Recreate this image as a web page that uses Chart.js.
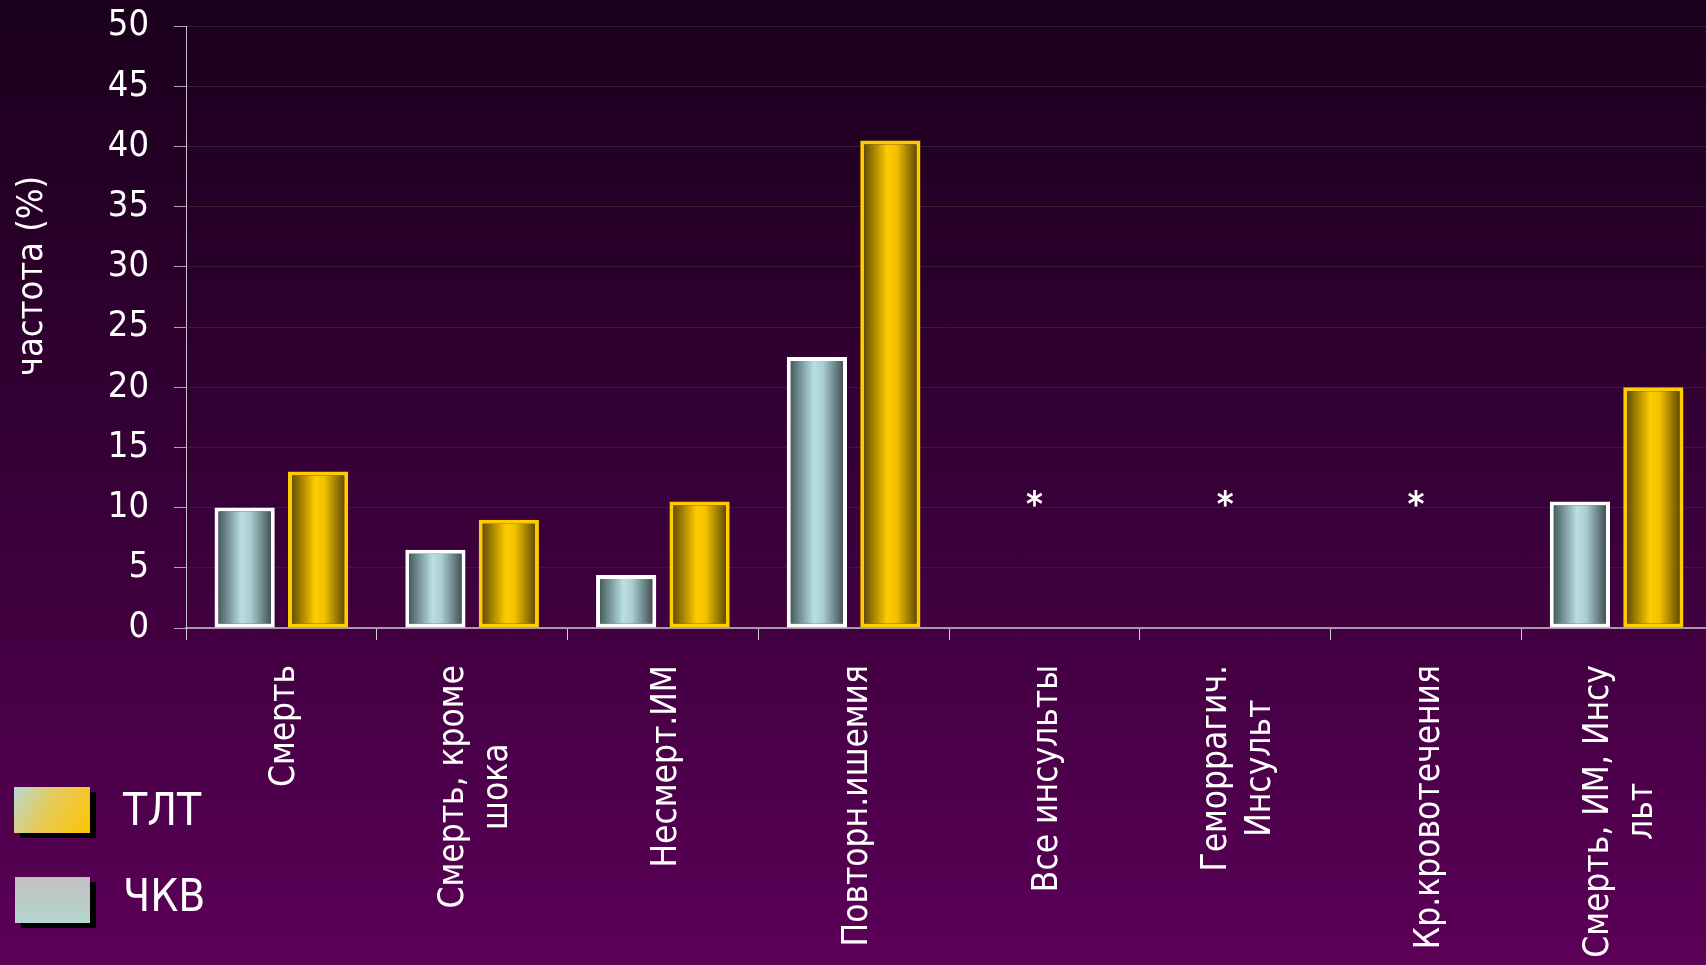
<!DOCTYPE html>
<html>
<head>
<meta charset="utf-8">
<script src="https://cdn.jsdelivr.net/npm/chart.js@4/dist/chart.umd.min.js"></script>
<style>
  html, body { margin: 0; padding: 0; overflow: hidden; }
  body { background: linear-gradient(to bottom, #1a001c 0%, #3a003a 55%, #5c0058 100%); width: 1706px; height: 965px; }
  #wrap { width: 1712px; height: 965px; }
</style>
</head>
<body>
<div id="wrap"><canvas id="grafico" width="1712" height="965"></canvas></div>
<script>
// категории (многострочные подписи)
const categorias = [
    ['Смерть'],
    ['Смерть, кроме', 'шока'],
    ['Несмерт.ИМ'],
    ['Повторн.ишемия'],
    ['Все инсульты'],
    ['Геморрагич.', 'Инсульт'],
    ['Кр.кровотечения'],
    ['Смерть, ИМ, Инсу', 'льт']
];
const valoresChkv = [10, 6.5, 4.4, 22.5, null, null, null, 10.5]; // ЧКВ
const valoresTlt = [13, 9, 10.5, 40.5, null, null, null, 20];    // ТЛТ
const asteriscos = ['', '', '', '', '*', '*', '*', ''];
const yMin = 0, yMax = 50, yPaso = 5;
const tituloY = 'частота (%)';

const FUENTE = "'DejaVu Sans Condensed', 'DejaVu Sans', Verdana, sans-serif";
const catPct = 0.77, barPct = 0.82;

// degradado horizontal por barra, calculado desde la escala
function rellenoBarra(paradas) {
    return function(c) {
        const chart = c.chart;
        const xs = chart.scales && chart.scales.x;
        if (!xs || c.type !== 'data' || !chart.chartArea) return paradas[1][1];
        const anchoCat = xs.width / categorias.length;
        const slot = anchoCat * catPct / 2;
        const centro = xs.getPixelForValue(c.dataIndex) + (c.datasetIndex - 0.5) * slot;
        const w = slot * barPct;
        const g = chart.ctx.createLinearGradient(centro - w / 2, 0, centro + w / 2, 0);
        paradas.forEach(p => g.addColorStop(p[0], p[1]));
        return g;
    };
}

const pluginExtras = {
    id: 'extras',
    afterDraw(chart) {
        const ctx = chart.ctx;
        const xs = chart.scales.x, ys = chart.scales.y;
        ctx.save();
        ctx.fillStyle = '#ffffff';

        // подписи категорий, повернутые
        ctx.font = '35px ' + FUENTE;
        ctx.textBaseline = 'middle';
        ctx.textAlign = 'center';
        categorias.forEach((lineas, i) => {
            const cx = xs.getPixelForValue(i) + 4;
            const maxW = Math.max(...lineas.map(l => ctx.measureText(l).width));
            ctx.save();
            ctx.translate(cx, 665);
            ctx.rotate(-Math.PI / 2);
            lineas.forEach((l, k) => {
                ctx.fillText(l, -maxW / 2, (k - (lineas.length - 1) / 2) * 44);
            });
            ctx.restore();
        });

        // звездочки
        ctx.font = 'bold 36px ' + FUENTE;
        asteriscos.forEach((a, i) => {
            if (!a) return;
            ctx.fillText(a, xs.getPixelForValue(i) - 10, ys.getPixelForValue(10) - 1);
        });

        // заголовок оси Y
        ctx.font = '36px ' + FUENTE;
        ctx.save();
        ctx.translate(33, 276);
        ctx.rotate(-Math.PI / 2);
        ctx.fillText(tituloY, 0, 0);
        ctx.restore();

        // легенда
        const items = [
            { ds: 1, x: 14, y: 787, w: 76, h: 46, base: 825 },
            { ds: 0, x: 15, y: 877, w: 75, h: 46, base: 911 }
        ];
        items.forEach(it => {
            ctx.fillStyle = '#000000';
            ctx.fillRect(it.x + 6, it.y + 5, it.w, it.h);
            let g;
            if (it.ds === 1) {
                g = ctx.createLinearGradient(it.x, it.y, it.x + it.w, it.y + it.h);
                g.addColorStop(0, '#b8d8d0');
                g.addColorStop(0.45, '#e6ca5a');
                g.addColorStop(1, '#ffc400');
            } else {
                g = ctx.createLinearGradient(0, it.y, 0, it.y + it.h);
                g.addColorStop(0, '#c0c0c0');
                g.addColorStop(1, '#b6d6cf');
            }
            ctx.fillStyle = g;
            ctx.fillRect(it.x, it.y, it.w, it.h);
            ctx.fillStyle = '#ffffff';
            ctx.font = '44px ' + FUENTE;
            ctx.textAlign = 'left';
            ctx.textBaseline = 'alphabetic';
            ctx.fillText(chart.data.datasets[it.ds].label, 123, it.base);
        });
        ctx.restore();
    }
};

document.addEventListener('DOMContentLoaded', function() {
    const ctx = document.getElementById('grafico').getContext('2d');
    new Chart(ctx, {
        type: 'bar',
        data: {
            labels: categorias,
            datasets: [
                {
                    label: 'ЧКВ',
                    data: valoresChkv,
                    backgroundColor: rellenoBarra([[0, '#34474a'], [0.45, '#b9dfe3'], [0.6, '#a9ced2'], [1, '#2f3b3c']]),
                    borderColor: '#ffffff',
                    borderWidth: 4,
                    borderSkipped: false
                },
                {
                    label: 'ТЛТ',
                    data: valoresTlt,
                    backgroundColor: rellenoBarra([[0, '#4d3b00'], [0.45, '#ffcc00'], [0.6, '#f2c200'], [1, '#4a3800']]),
                    borderColor: '#ffcc00',
                    borderWidth: 4,
                    borderSkipped: false
                }
            ]
        },
        options: {
            responsive: false,
            animation: false,
            categoryPercentage: catPct,
            barPercentage: barPct,
            layout: { padding: { top: 26, left: 0, right: 0, bottom: 0 } },
            plugins: {
                legend: { display: false },
                tooltip: { enabled: false }
            },
            scales: {
                x: {
                    offset: true,
                    afterFit: s => { s.height = 337; },
                    ticks: { display: false },
                    grid: {
                        offset: true,
                        drawOnChartArea: false,
                        drawTicks: true,
                        tickLength: 12,
                        tickColor: '#d0d0d0'
                    },
                    border: { color: '#a898a8', width: 2 }
                },
                y: {
                    min: yMin,
                    max: yMax,
                    afterFit: s => { s.width = 186; s.paddingTop = 0; s.paddingBottom = 0; },
                    ticks: {
                        stepSize: yPaso,
                        color: '#ffffff',
                        font: { family: FUENTE, size: 36 },
                        padding: 25
                    },
                    grid: {
                        color: '#302030',
                        tickColor: '#b0a0b0',
                        tickLength: 12
                    },
                    border: { color: '#c8c0c8', width: 1 }
                }
            }
        },
        plugins: [pluginExtras]
    });
});
</script>
</body>
</html>
